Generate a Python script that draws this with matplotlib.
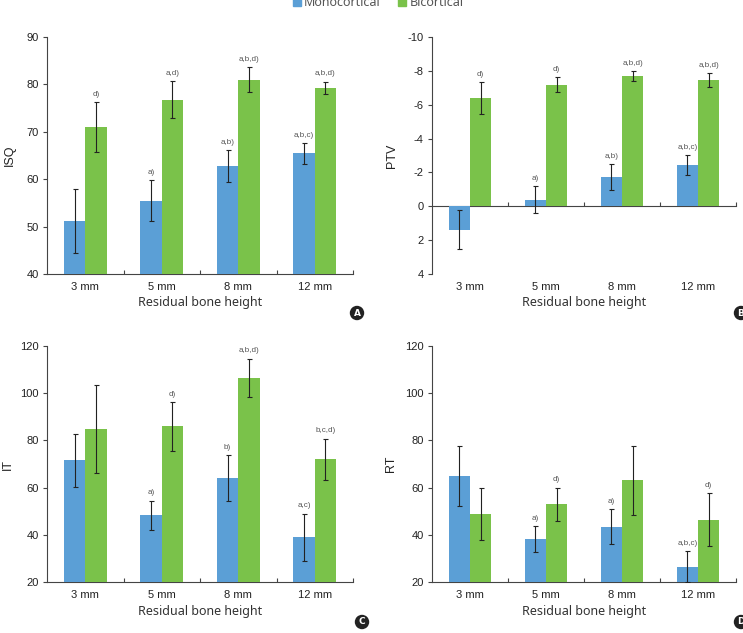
#!/usr/bin/env python3

import numpy as np
import matplotlib
matplotlib.use("Agg")
import matplotlib.pyplot as plt
from matplotlib.lines import Line2D

plt.rcParams["axes.unicode_minus"] = False

heights = ["3 mm", "5 mm", "8 mm", "12 mm"]

# ISQ
isq_mono = [51.2, 55.5, 62.8, 65.5]
isq_mono_err = [6.7, 4.4, 3.4, 2.2]
isq_bi = [71.0, 76.8, 81.0, 79.3]
isq_bi_err = [5.3, 3.9, 2.7, 1.3]
isq_mono_lab = ["", "a)", "a,b)", "a,b,c)"]
isq_bi_lab = ["d)", "a,d)", "a,b,d)", "a,b,d)"]

# PTV
ptv_mono = [1.38, -0.39, -1.73, -2.44]
ptv_mono_err = [1.15, 0.78, 0.74, 0.59]
ptv_bi = [-6.40, -7.19, -7.70, -7.47]
ptv_bi_err = [0.92, 0.42, 0.29, 0.40]
ptv_mono_lab = ["", "a)", "a,b)", "a,b,c)"]
ptv_bi_lab = ["d)", "d)", "a,b,d)", "a,b,d)"]

# IT
it_mono = [71.5, 48.2, 64.1, 38.9]
it_mono_err = [11.3, 6.3, 9.7, 10.1]
it_bi = [84.9, 85.9, 106.5, 72.1]
it_bi_err = [18.6, 10.3, 8.2, 8.7]
it_mono_lab = ["", "a)", "b)", "a,c)"]
it_bi_lab = ["", "d)", "a,b,d)", "b,c,d)"]

# RT
rt_mono = [65.1, 38.3, 43.5, 26.5]
rt_mono_err = [12.7, 5.4, 7.4, 6.6]
rt_bi = [48.7, 53.0, 63.1, 46.3]
rt_bi_err = [11.1, 7.0, 14.7, 11.2]
rt_mono_lab = ["", "a)", "a)", "a,b,c)"]
rt_bi_lab = ["", "d)", "", "d)"]

BLUE = "#5b9fd6"
GREEN = "#7ac24a"
AXC = "#444444"
W, H = 743, 633

fig = plt.figure(figsize=(W / 100, H / 100), dpi=100)


def make_ax(left, top, right, bottom):
    return fig.add_axes([left / W, 1 - bottom / H, (right - left) / W, (bottom - top) / H])


def panel(ax, mono, mono_err, bi, bi_err, mono_lab, bi_lab, ylabel, ylim, yticks,
          ylabel_x, inverted=False):
    x = np.arange(len(heights))
    bw = 0.28
    ax.bar(x - bw / 2, mono, bw, color=BLUE, zorder=2)
    ax.bar(x + bw / 2, bi, bw, color=GREEN, zorder=2)
    ek = dict(fmt="none", ecolor="#222222", elinewidth=0.8, capsize=1.8, capthick=0.8, zorder=3)
    ax.errorbar(x - bw / 2, mono, yerr=mono_err, **ek)
    ax.errorbar(x + bw / 2, bi, yerr=bi_err, **ek)

    for xs, vals, errs, labs in [(x - bw / 2, mono, mono_err, mono_lab), (x + bw / 2, bi, bi_err, bi_lab)]:
        for xi, v, e, lab in zip(xs, vals, errs, labs):
            if not lab:
                continue
            top = v - e if inverted else v + e
            ax.annotate(lab, (xi, top), xytext=(0, 3), textcoords="offset points",
                        ha="center", va="bottom", fontsize=5.8, color="#555555",
                        family="Liberation Sans")

    ax.set_xlim(-0.5, 3.5)
    ax.set_ylim(*ylim)
    ax.set_yticks(yticks)
    ax.set_yticklabels([str(t) for t in yticks], fontsize=8, family="Liberation Sans", color="#222222")
    ax.set_xticks(x)
    ax.set_xticklabels(heights, fontsize=8, family="Liberation Sans", color="#222222")
    ax.tick_params(axis="x", length=0, pad=6)
    ax.tick_params(axis="y", length=3, width=0.8, color=AXC, pad=3)
    ax.set_ylabel(ylabel, fontsize=9, family="Liberation Sans", color="#222222")
    pos = ax.get_position()
    ax.yaxis.set_label_coords((ylabel_x / W - pos.x0) / pos.width, 0.5)
    ax.yaxis.label.set_va("center")
    ax.set_xlabel("Residual bone height", fontsize=9, family="Noto Sans", color="#333333", labelpad=3)
    for s in ["top", "right"]:
        ax.spines[s].set_visible(False)
    ax.spines["left"].set_color(AXC)
    ax.spines["left"].set_linewidth(0.8)

    # category boundary ticks on the zero / baseline axis
    frac = (ylim[0] - 0) / (ylim[0] - ylim[1]) if inverted else 0.0
    sec = ax.secondary_xaxis(frac)
    sec.set_xticks([0.5, 1.5, 2.5, 3.5])
    sec.tick_params(axis="x", direction="in", length=3, width=0.8, color=AXC, labelbottom=False)
    sec.set_xticklabels([])
    sec.spines["bottom"].set_color(AXC)
    sec.spines["bottom"].set_linewidth(0.8)
    ax.spines["bottom"].set_visible(False)


axA = make_ax(47, 37, 353, 274)
panel(axA, isq_mono, isq_mono_err, isq_bi, isq_bi_err, isq_mono_lab, isq_bi_lab,
      "ISQ", (40, 90), list(range(40, 91, 10)), 10)

axB = make_ax(432, 37, 736, 274)
panel(axB, ptv_mono, ptv_mono_err, ptv_bi, ptv_bi_err, ptv_mono_lab, ptv_bi_lab,
      "PTV", (4, -10), list(range(-10, 5, 2)), 392, inverted=True)

axC = make_ax(47, 346, 353, 582)
panel(axC, it_mono, it_mono_err, it_bi, it_bi_err, it_mono_lab, it_bi_lab,
      "IT", (20, 120), list(range(20, 121, 20)), 8)

axD = make_ax(432, 346, 736, 582)
panel(axD, rt_mono, rt_mono_err, rt_bi, rt_bi_err, rt_mono_lab, rt_bi_lab,
      "RT", (20, 120), list(range(20, 121, 20)), 391)

for letter, px, py in [("A", 357, 313), ("B", 741, 313), ("C", 362, 622), ("D", 741, 622)]:
    fig.text(px / W, 1 - py / H, letter, ha="center", va="center", fontsize=6.5,
             weight="bold", color="white", family="DejaVu Sans",
             bbox=dict(boxstyle="circle,pad=0.3", fc="#222222", ec="none"))

handles = [Line2D([], [], marker="s", ls="none", color=BLUE, markersize=6),
           Line2D([], [], marker="s", ls="none", color=GREEN, markersize=6)]
leg = fig.legend(handles, ["Monocortical", "Bicortical"], loc="center",
                 bbox_to_anchor=(377 / W, 1 - 3 / H), ncol=2, frameon=False,
                 prop={"family": "Noto Sans", "size": 9}, handletextpad=0.1,
                 handlelength=1.0, columnspacing=1.2, borderaxespad=0, borderpad=0)
for t in leg.get_texts():
    t.set_color("#555555")

fig.savefig("out.png", dpi=100)
